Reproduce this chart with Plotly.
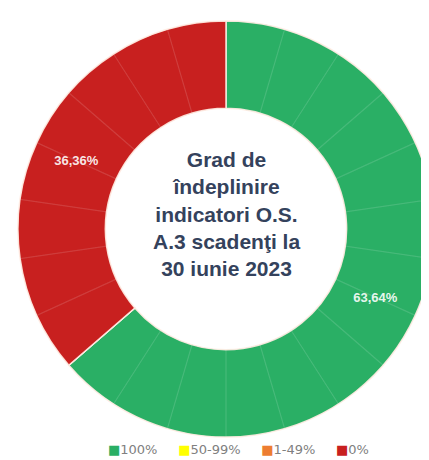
import plotly.graph_objects as go

categories = ["100%", "50-99%", "1-49%", "0%"]
counts = [14, 0, 0, 8]
colors = ["#2AAF65", "#FFFF00", "#ED7D31", "#C8201F"]
center_title = "Grad de<br>îndeplinire<br>indicatori O.S.<br>A.3 scadenţi la<br>30 iunie 2023"

total = sum(counts)
unit_values = [1] * total

fig = go.Figure()
fig.add_trace(go.Pie(
    labels=categories,
    values=counts,
    marker=dict(colors=colors, line=dict(color="rgba(255,235,225,0.9)", width=1.5)),
    hole=0.58,
    sort=False,
    direction="clockwise",
    rotation=0,
    textposition="inside",
    insidetextorientation="horizontal",
    texttemplate="<b>%{percent:.2%}</b>",
    textfont=dict(family="Liberation Sans, Arial, sans-serif", size=13, color="rgba(255,255,255,0.9)"),
    hoverinfo="label+percent",
    showlegend=False,
    domain=dict(x=[0, 1], y=[0, 1]),
))
fig.add_trace(go.Pie(
    values=unit_values,
    marker=dict(colors=["rgba(0,0,0,0)"] * total, line=dict(color="rgba(255,255,255,0.07)", width=1.2)),
    hole=0.58,
    sort=False,
    direction="clockwise",
    rotation=0,
    textinfo="none",
    hoverinfo="skip",
    showlegend=False,
    domain=dict(x=[0, 1], y=[0, 1]),
))

fig.add_annotation(
    text="<b>" + center_title + "</b>",
    x=0.5, y=0.535, xref="paper", yref="paper",
    showarrow=False,
    font=dict(family="Liberation Sans, Arial, sans-serif", size=21, color="#34425C"),
    align="center",
)

# legend drawn as a single text line with coloured squares
legend_parts = []
for cat, col in zip(categories, colors):
    legend_parts.append(
        "<span style='color:%s'>■</span>%s" % (col, cat)
    )
legend_text = "\u00a0\u00a0\u00a0\u00a0\u00a0".join(legend_parts)
fig.add_annotation(
    text=legend_text,
    x=0.53, y=-0.03, xref="paper", yref="paper",
    xanchor="center", yanchor="middle",
    showarrow=False,
    font=dict(family="DejaVu Sans, sans-serif", size=13, color="#808080"),
)

fig.update_layout(
    width=429, height=460,
    margin=dict(l=10, r=3, t=13, b=31),
    paper_bgcolor="white",
    plot_bgcolor="white",
    separators=",.",
    showlegend=False,
)

fig.write_html("out.html")
